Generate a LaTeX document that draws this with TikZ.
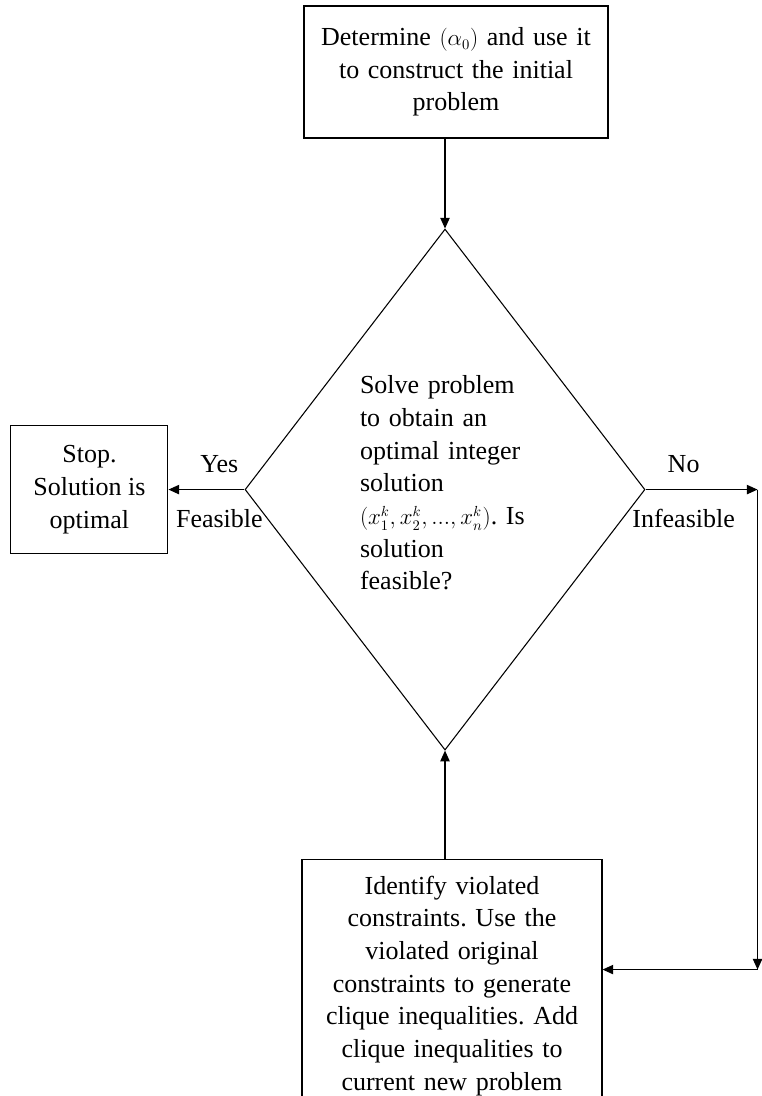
\documentclass[tikz,border=0pt]{standalone}
\usepackage{amsmath}
\usepackage{fontspec}
\setmainfont{Liberation Serif}
\usepackage{tikz}
\usetikzlibrary{arrows.meta, positioning, shapes.geometric}
\frenchspacing

\begin{document}
\begin{tikzpicture}[
    every node/.style={font=\fontsize{19.5}{24.5}\selectfont},
    block/.style={rectangle, draw, line width=0.8pt, align=center, inner sep=0pt},
    decision/.style={diamond, draw, line width=0.8pt, aspect=0.77, inner sep=0pt,
                     minimum width=300pt, minimum height=390.75pt},
    txt/.style={text width=127.5pt, align=left, inner sep=0pt},
    arrow/.style={-{Triangle[length=8pt, width=7pt]}, line width=0.9pt}
]
    \useasboundingbox (0,0) rectangle (571.5pt,-822pt);
    \node[block, minimum width=228pt, minimum height=99pt, text width=215pt] (b1) at (342pt,-54pt)
        {Determine {\fontsize{16}{24.5}\selectfont$(\alpha_0)$} and use it\\ to construct the initial\\ problem};
    \node[decision, below=67.5pt of b1, xshift=-8.25pt] (d1) {};
    \node[txt] (t1) at ([yshift=5pt]d1.center)
        {Solve problem\\ to obtain an\\ optimal integer\\ solution\\
         \mbox{{\fontsize{16}{24.5}\selectfont$(x_1^k,x_2^k,...,x_n^k)$}. Is}\\ solution\\ feasible?};
    \node[block, left=57pt of d1, minimum width=117.75pt, minimum height=96pt] (b2)
        {Stop.\\ Solution is\\ optimal};
    \node[block, below=81pt of d1, xshift=5.25pt, minimum width=225pt, minimum height=190pt,
          text width=210pt] (b3)
        {Identify violated\\ constraints. Use the\\ violated original\\ constraints to generate\\
         clique inequalities. Add\\ clique inequalities to\\ current new problem};
    \coordinate[right=84pt of d1.east] (c1);
    \coordinate[below=360pt of c1] (c2);

    \draw[arrow] (b1.south -| d1.north) -- (d1.north);
    \draw[arrow] (d1.west) -- node[pos=0.33, above=9pt] {Yes}
        node[pos=0.33, below=11pt] {Feasible} (b2.east);
    \draw[arrow] (d1.east) -- node[pos=0.34, above=9pt] {No}
        node[pos=0.34, below=11pt] {Infeasible} (c1);
    \draw[arrow] (c1) -- (c2);
    \draw[arrow] (c2) -- (c2 -| b3.east);
    \draw[arrow] (b3.north -| d1.south) -- (d1.south);
\end{tikzpicture}
\end{document}
